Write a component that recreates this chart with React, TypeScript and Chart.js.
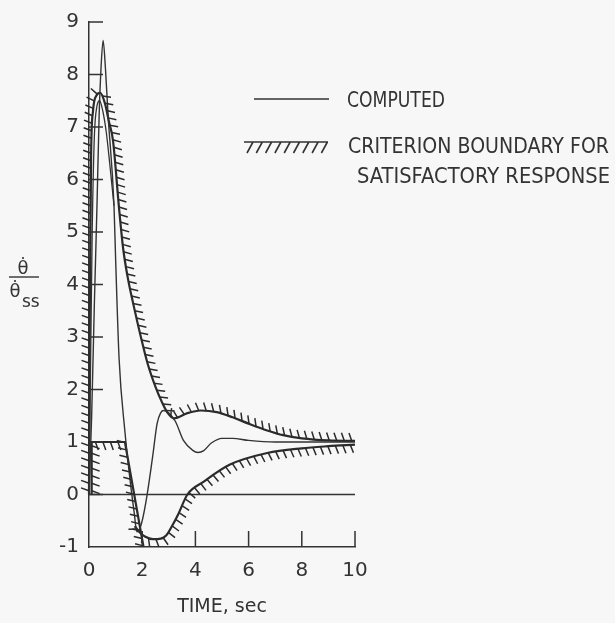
import React, { useEffect, useRef } from 'react';
import { Chart, registerables } from 'chart.js';

Chart.register(...registerables);

// ---- axis ticks ----
const xTicks = [0, 2, 4, 6, 8, 10];
const yTicks = [-1, 0, 1, 2, 3, 4, 5, 6, 7, 8, 9];

// ---- computed response (spike) ----
const computedT = [0, 0.1, 0.2, 0.3, 0.38, 0.45, 0.53, 0.62, 0.72, 0.94, 1.0, 1.13, 1.35, 1.55, 1.7, 1.8, 1.9, 2.0, 2.18, 2.4, 2.56, 2.7, 2.8, 3.0, 3.25, 3.55, 3.9, 4.1, 4.3, 4.6, 5.0, 5.4, 6.0, 7.0, 8.0, 10.0];
const computedV = [0, 1.5, 3.6, 5.5, 7.2, 8.1, 8.65, 8.1, 7.2, 5.5, 4.5, 2.6, 1.2, 0.25, -0.35, -0.71, -0.66, -0.5, -0.02, 0.75, 1.35, 1.56, 1.6, 1.55, 1.39, 1.03, 0.84, 0.8, 0.83, 0.98, 1.07, 1.07, 1.03, 1.0, 1.0, 1.0];

// ---- inner computed arc ----
const innerT = [0, 0.06, 0.12, 0.2, 0.3, 0.4, 0.52, 0.65, 0.78, 0.94];
const innerV = [0, 2.5, 5.0, 6.8, 7.4, 7.5, 7.3, 6.9, 6.3, 5.5];

// ---- criterion boundary: upper envelope ----
const upperT = [0, 0.03, 0.08, 0.15, 0.28, 0.42, 0.6, 0.75, 0.9, 1.13, 1.28, 1.45, 1.7, 1.95, 2.2, 2.5, 2.75, 2.95, 3.2, 3.7, 4.2, 4.8, 5.4, 6.0, 6.7, 7.3, 8.0, 9.0, 10.0];
const upperV = [0, 3.5, 6.5, 7.3, 7.6, 7.65, 7.45, 7.1, 6.75, 5.45, 4.7, 4.15, 3.55, 3.0, 2.5, 2.05, 1.75, 1.56, 1.45, 1.55, 1.6, 1.57, 1.47, 1.35, 1.22, 1.13, 1.07, 1.03, 1.02];

// ---- criterion boundary: lower box ----
const boxT = [0.1, 0.1, 1.35, 2.05];
const boxV = [0, 1, 1, -1];

// ---- criterion boundary: lower curve ----
const lowerT = [1.72, 1.9, 2.1, 2.4, 2.7, 2.9, 3.1, 3.35, 3.7, 4.3, 5.3, 6.7, 8.0, 9.0, 10.0];
const lowerV = [-0.6, -0.72, -0.8, -0.85, -0.84, -0.78, -0.62, -0.38, 0, 0.24, 0.57, 0.79, 0.88, 0.92, 0.95];

// ---- zero reference line ----
const zeroT = [0, 10];
const zeroV = [0, 0];

// ---- texts ----
const legendComputed = 'COMPUTED';
const legendBoundary1 = 'CRITERION BOUNDARY FOR';
const legendBoundary2 = 'SATISFACTORY RESPONSE';
const xTitle = 'TIME, sec';
const yNum = 'θ̇';
const yDen = 'θ̇';
const yDenSub = 'ss';

const INK = '#333333';
const BG = '#f7f7f7';
const FONT = "'DejaVu Sans', sans-serif";

const pts = (t: number[], v: number[]) => t.map((x, i) => ({ x, y: v[i] }));

// hatch sides per dataset index: -1 = left of travel, +1 = right of travel
const HATCH: Record<number, number> = { 2: -1, 3: 1, 4: 1 };

function samplePath(meta: any) {
  const els = meta.data as any[];
  const out: { x: number; y: number }[] = [];
  for (let i = 0; i < els.length; i++) {
    const p = els[i];
    if (i === 0) {
      out.push({ x: p.x, y: p.y });
      continue;
    }
    const q = els[i - 1];
    const hasCp =
      typeof q.cp2x === 'number' && typeof p.cp1x === 'number' &&
      isFinite(q.cp2x) && isFinite(p.cp1x);
    const N = 24;
    for (let k = 1; k <= N; k++) {
      const s = k / N;
      if (hasCp) {
        const u = 1 - s;
        const x = u * u * u * q.x + 3 * u * u * s * q.cp2x + 3 * u * s * s * p.cp1x + s * s * s * p.x;
        const y = u * u * u * q.y + 3 * u * u * s * q.cp2y + 3 * u * s * s * p.cp1y + s * s * s * p.y;
        out.push({ x, y });
      } else {
        out.push({ x: q.x + (p.x - q.x) * s, y: q.y + (p.y - q.y) * s });
      }
    }
  }
  return out;
}

function drawHatch(ctx: CanvasRenderingContext2D, path: { x: number; y: number }[], side: number, spacing: number, len: number) {
  let acc = spacing / 2;
  ctx.beginPath();
  for (let i = 1; i < path.length; i++) {
    const a = path[i - 1];
    const b = path[i];
    const dx = b.x - a.x;
    const dy = b.y - a.y;
    const L = Math.hypot(dx, dy);
    if (L < 1e-6) continue;
    const tx = dx / L;
    const ty = dy / L;
    const nx = side * -ty;
    const ny = side * tx;
    let pos = acc;
    while (pos <= L) {
      const px = a.x + tx * pos;
      const py = a.y + ty * pos;
      const s = nx + ny >= 0 ? 1 : -1;
      let ddx = nx + s * 0.8 * 0.7071;
      let ddy = ny + s * 0.8 * 0.7071;
      const dl = Math.hypot(ddx, ddy);
      ddx /= dl;
      ddy /= dl;
      ctx.moveTo(px, py);
      ctx.lineTo(px + ddx * len, py + ddy * len);
      pos += spacing;
    }
    acc = pos - L;
  }
  ctx.stroke();
}

function fitText(ctx: CanvasRenderingContext2D, text: string, x: number, y: number, width: number) {
  const w = ctx.measureText(text).width;
  ctx.save();
  ctx.translate(x, y);
  ctx.scale(width / w, 1);
  ctx.fillText(text, 0, 0);
  ctx.restore();
}

const bgPlugin = {
  id: 'bg',
  beforeDraw(chart: any) {
    const ctx = chart.ctx as CanvasRenderingContext2D;
    ctx.save();
    ctx.fillStyle = BG;
    ctx.fillRect(0, 0, chart.width, chart.height);
    ctx.restore();
  },
};

const decorPlugin = {
  id: 'decor',
  afterDatasetsDraw(chart: any) {
    const ctx = chart.ctx as CanvasRenderingContext2D;
    ctx.save();
    ctx.strokeStyle = '#2b2b2b';
    ctx.lineWidth = 1.5;
    ctx.lineCap = 'butt';
    Object.keys(HATCH).forEach((k) => {
      const idx = Number(k);
      const meta = chart.getDatasetMeta(idx);
      const path = samplePath(meta);
      drawHatch(ctx, path, HATCH[idx], 7.5, 8.5);
    });
    ctx.restore();
  },
  afterDraw(chart: any) {
    const ctx = chart.ctx as CanvasRenderingContext2D;
    const xs = chart.scales.x;
    const ys = chart.scales.y;
    const { left, bottom } = chart.chartArea;
    ctx.save();
    ctx.strokeStyle = INK;
    ctx.lineWidth = 1.5;
    ctx.beginPath();
    yTicks.forEach((v) => {
      if (v === -1) return;
      const py = ys.getPixelForValue(v);
      ctx.moveTo(left, py);
      ctx.lineTo(left + 14, py);
    });
    xTicks.forEach((v) => {
      if (v === 0) return;
      const px = xs.getPixelForValue(v);
      ctx.moveTo(px, bottom);
      ctx.lineTo(px, bottom - 16);
    });
    ctx.stroke();

    // legend
    ctx.fillStyle = INK;
    ctx.lineWidth = 1.6;
    ctx.beginPath();
    ctx.moveTo(254, 99);
    ctx.lineTo(329, 99);
    ctx.stroke();
    ctx.lineWidth = 1.6;
    ctx.beginPath();
    ctx.moveTo(244, 142);
    ctx.lineTo(328, 142);
    for (let i = 0; i < 9; i++) {
      const x = 253 + i * 9.3;
      ctx.moveTo(x, 142);
      ctx.lineTo(x - 6, 153);
    }
    ctx.stroke();
    ctx.font = `22px ${FONT}`;
    ctx.textBaseline = 'alphabetic';
    ctx.textAlign = 'left';
    fitText(ctx, legendComputed, 347, 107, 98);
    fitText(ctx, legendBoundary1, 348, 153, 261);
    fitText(ctx, legendBoundary2, 357, 183, 253);

    // y-axis title (fraction)
    ctx.font = `18px ${FONT}`;
    ctx.textAlign = 'center';
    ctx.fillText(yNum, 23, 274);
    ctx.lineWidth = 1.4;
    ctx.beginPath();
    ctx.moveTo(9, 277);
    ctx.lineTo(39, 277);
    ctx.stroke();
    ctx.fillText(yDen, 15, 297);
    ctx.font = `17px ${FONT}`;
    ctx.textAlign = 'left';
    ctx.fillText(yDenSub, 22, 307);
    ctx.restore();
  },
};

export default function App() {
  const ref = useRef<HTMLCanvasElement>(null);
  useEffect(() => {
    const canvas = ref.current!;
    const lineBase = { pointRadius: 0, borderColor: INK, clip: false as any, fill: false };
    const chart = new Chart(canvas, {
      type: 'line',
      data: {
        datasets: [
          { ...lineBase, label: 'computed', data: pts(computedT, computedV), borderWidth: 1.4, cubicInterpolationMode: 'monotone' },
          { ...lineBase, label: 'inner', data: pts(innerT, innerV), borderWidth: 1.3, cubicInterpolationMode: 'monotone' },
          { ...lineBase, label: 'upper', data: pts(upperT, upperV), borderWidth: 2.2, borderColor: '#2b2b2b', cubicInterpolationMode: 'monotone' },
          { ...lineBase, label: 'box', data: pts(boxT, boxV), borderWidth: 2.2, borderColor: '#2b2b2b', tension: 0 },
          { ...lineBase, label: 'lower', data: pts(lowerT, lowerV), borderWidth: 2.2, borderColor: '#2b2b2b', cubicInterpolationMode: 'monotone' },
          { ...lineBase, label: 'zero', data: pts(zeroT, zeroV), borderWidth: 1.5, tension: 0 },
        ] as any,
      },
      options: {
        responsive: false,
        animation: false,
        devicePixelRatio: 1,
        layout: { padding: { left: 0, top: 15, right: 260, bottom: 0 } },
        plugins: { legend: { display: false }, tooltip: { enabled: false } },
        scales: {
          x: {
            type: 'linear',
            min: 0,
            max: 10,
            afterFit: (s: any) => { s.height = 76; },
            afterBuildTicks: (s: any) => { s.ticks = xTicks.map((v) => ({ value: v })); },
            grid: { display: false, drawTicks: false },
            border: { display: true, color: INK, width: 1.5 },
            ticks: { padding: 12, maxRotation: 0, color: INK, font: { family: FONT, size: 20 } },
            title: { display: true, text: xTitle, color: INK, font: { family: FONT, size: 19 }, padding: { top: 0, bottom: 5 } },
          },
          y: {
            type: 'linear',
            min: -1,
            max: 9,
            afterFit: (s: any) => { s.width = 89; },
            afterBuildTicks: (s: any) => { s.ticks = yTicks.map((v) => ({ value: v })); },
            grid: { display: false, drawTicks: false },
            border: { display: true, color: INK, width: 1.5 },
            ticks: { padding: 10, color: INK, font: { family: FONT, size: 20 } },
          },
        },
      } as any,
      plugins: [bgPlugin, decorPlugin],
    });
    return () => chart.destroy();
  }, []);
  return (
    <div style={{ position: 'fixed', left: 0, top: 0, width: 615, height: 623, background: BG }}>
      <canvas ref={ref} width={615} height={623} style={{ display: 'block', width: 615, height: 623 }} />
    </div>
  );
}
